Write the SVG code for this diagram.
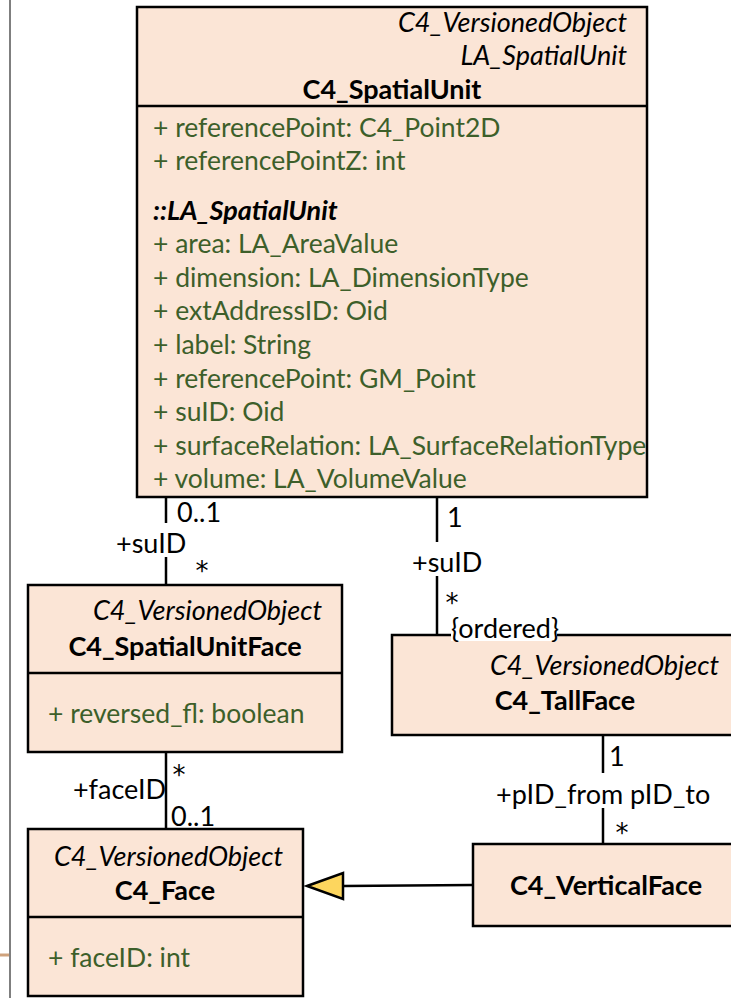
<svg xmlns="http://www.w3.org/2000/svg" width="731" height="998" viewBox="0 0 731 998">
<style>
text{font-family:Lato,"Open Sans","Liberation Sans",sans-serif;font-size:27px;fill:#000}
.box{fill:#FBE5D6;stroke:#000;stroke-width:2.5}
.div{stroke:#000;stroke-width:2.5}
.st{font-style:italic;text-anchor:end}
.nm{font-weight:bold;text-anchor:middle}
.at{fill:#3D5F2A;font-size:26.5px}
.ast{font-family:"DejaVu Sans",sans-serif;font-size:26px;text-anchor:middle}
.ln{stroke:#000;stroke-width:2.5;fill:none}
</style>
<rect x="0" y="0" width="731" height="998" fill="#fff"/>
<line x1="10" y1="0" x2="10" y2="998" stroke="#555" stroke-width="1.5"/>
<line x1="0" y1="955" x2="9" y2="955" stroke="#CFA27C" stroke-width="3"/>

<g id="connectors">
  <line class="ln" x1="166" y1="497" x2="166" y2="523"/>
  <line class="ln" x1="166" y1="557" x2="166" y2="585"/>
  <text x="177" y="522">0..1</text>
  <text x="116" y="553">+suID</text>
  <text class="ast" x="202" y="580">*</text>

  <line class="ln" x1="437" y1="497" x2="437" y2="542"/>
  <line class="ln" x1="437" y1="576" x2="437" y2="635"/>
  <text x="447" y="527">1</text>
  <text x="412" y="572">+suID</text>
  <text class="ast" x="452" y="612">*</text>

  <line class="ln" x1="166" y1="752" x2="166" y2="829"/>
  <text class="ast" x="179" y="784">*</text>
  <text x="166" y="799" text-anchor="end">+faceID</text>
  <text x="171" y="826">0..1</text>

  <line class="ln" x1="603" y1="735" x2="603" y2="773"/>
  <line class="ln" x1="603" y1="808" x2="603" y2="844"/>
  <text x="609" y="766">1</text>
  <text x="496" y="804">+pID_from pID_to</text>
  <text class="ast" x="622" y="842">*</text>

  <line class="ln" x1="343" y1="886" x2="473" y2="885" stroke-width="2"/>
  <polygon points="307,886 343,873 343,899" fill="#FDD65E" stroke="#000" stroke-width="2.5" stroke-linejoin="miter"/>
</g>

<g id="C4_SpatialUnit">
  <rect class="box" x="137" y="7" width="510" height="490"/>
  <line class="div" x1="137" y1="106" x2="647" y2="106" stroke-width="3.5"/>
  <text class="st" x="627" y="32">C4_VersionedObject</text>
  <text class="st" x="627" y="65">LA_SpatialUnit</text>
  <text class="nm" x="392" y="99">C4_SpatialUnit</text>
  <text class="at" x="153" y="137">+ referencePoint: C4_Point2D</text>
  <text class="at" x="153" y="170">+ referencePointZ: int</text>
  <text x="153" y="220" font-weight="bold" font-style="italic">::LA_SpatialUnit</text>
  <text class="at" x="153" y="253">+ area: LA_AreaValue</text>
  <text class="at" x="153" y="287">+ dimension: LA_DimensionType</text>
  <text class="at" x="153" y="320">+ extAddressID: Oid</text>
  <text class="at" x="153" y="354">+ label: String</text>
  <text class="at" x="153" y="388">+ referencePoint: GM_Point</text>
  <text class="at" x="153" y="421">+ suID: Oid</text>
  <text class="at" x="153" y="455">+ surfaceRelation: LA_SurfaceRelationType</text>
  <text class="at" x="153" y="488">+ volume: LA_VolumeValue</text>
</g>

<g id="C4_SpatialUnitFace">
  <rect class="box" x="28" y="585" width="314" height="167"/>
  <line class="div" x1="28" y1="673" x2="342" y2="673"/>
  <text class="st" x="322" y="620">C4_VersionedObject</text>
  <text class="nm" x="185" y="656">C4_SpatialUnitFace</text>
  <text class="at" x="48" y="723">+ reversed_fl: boolean</text>
</g>

<g id="C4_TallFace">
  <rect class="box" x="392" y="635" width="350" height="100"/>
  <text class="st" x="719" y="675">C4_VersionedObject</text>
  <text class="nm" x="565" y="710">C4_TallFace</text>
  <rect x="451" y="619" width="106" height="22" fill="#fff"/>
  <text x="451" y="638">{ordered}</text>
</g>

<g id="C4_Face">
  <rect class="box" x="28" y="829" width="275" height="167"/>
  <line class="div" x1="28" y1="917" x2="303" y2="917"/>
  <text class="st" x="283" y="866">C4_VersionedObject</text>
  <text class="nm" x="165" y="900">C4_Face</text>
  <text class="at" x="48" y="967">+ faceID: int</text>
</g>

<g id="C4_VerticalFace">
  <rect class="box" x="473" y="844" width="270" height="82"/>
  <text class="nm" x="606" y="895">C4_VerticalFace</text>
</g>
</svg>
